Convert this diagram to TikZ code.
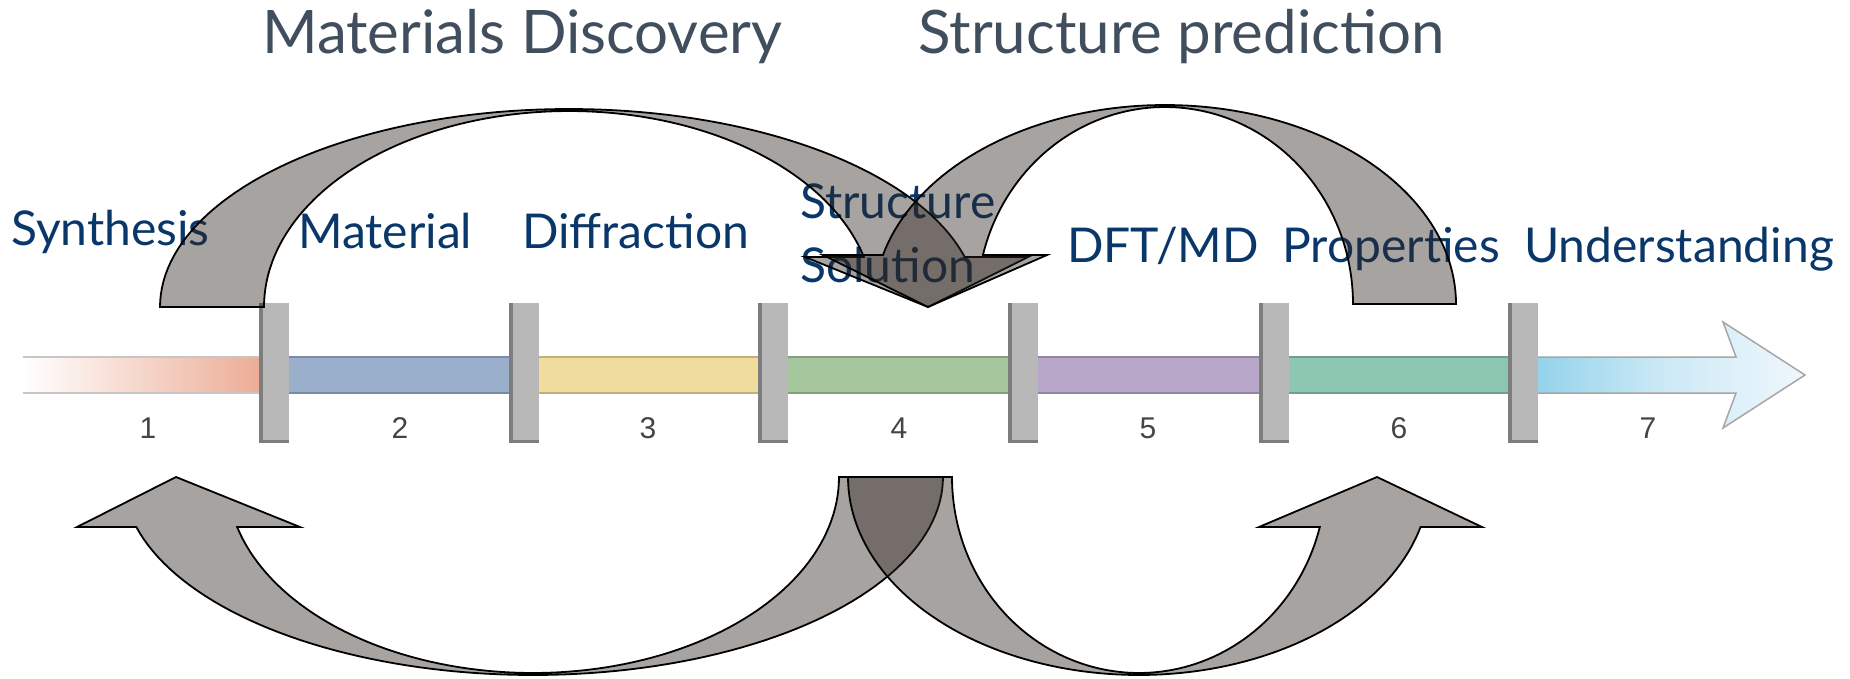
\documentclass[tikz,border=0pt]{standalone}
\usepackage{fontspec}
\newfontfamily\labfont{Lato}
\newfontfamily\numfont{Liberation Sans}
\definecolor{titlecol}{RGB}{65,78,94}
\definecolor{labcol}{RGB}{10,55,105}
\definecolor{arrowfill}{RGB}{45,35,30}
\definecolor{numcol}{RGB}{68,68,68}
\definecolor{segA}{RGB}{235,168,144}
\definecolor{segB}{RGB}{154,175,203}
\definecolor{segC}{RGB}{240,220,156}
\definecolor{segD}{RGB}{166,199,158}
\definecolor{segE}{RGB}{185,167,201}
\definecolor{segF}{RGB}{141,198,177}
\definecolor{segG}{RGB}{142,208,234}
\definecolor{segGend}{RGB}{240,246,252}
\definecolor{sepgray}{RGB}{184,184,184}
\definecolor{sepdark}{RGB}{125,125,125}
\begin{document}
\begin{tikzpicture}[x=1pt,y=-1pt,
  titletext/.style={anchor=base west, inner sep=0pt, text=titlecol, font=\labfont\fontsize{60}{72}\selectfont},
  labeltext/.style={anchor=base west, inner sep=0pt, text=labcol, font=\labfont\fontsize{48}{58}\selectfont},
  numtext/.style={anchor=center, inner sep=0pt, text=numcol, font=\numfont\fontsize{30}{34}\selectfont},
  curvedarrow/.style={draw=black, line width=1.8pt, fill=arrowfill, fill opacity=0.42, line join=miter},
  segbox/.style={line width=1.5pt},
  sepbody/.style={fill=sepgray},
  sepedge/.style={fill=sepdark},
]
\useasboundingbox (0,0) rectangle (1850,678);

% timeline bar
\shade[left color=white, right color=segA] (23,357) rectangle (274,393);
\draw[gray!45, line width=1.5pt] (23,357) -- (274,357) (23,393) -- (274,393);
\path[segbox, fill=segB, draw=segB!80!black] (274,357) rectangle (524,393);
\path[segbox, fill=segC, draw=segC!80!black] (524,357) rectangle (773,393);
\path[segbox, fill=segD, draw=segD!80!black] (773,357) rectangle (1023,393);
\path[segbox, fill=segE, draw=segE!80!black] (1023,357) rectangle (1274,393);
\path[segbox, fill=segF, draw=segF!80!black] (1274,357) rectangle (1523,393);
\shade[left color=segG, right color=segGend, middle color=segG!45!white]
  (1523,357) -- (1736,357) -- (1723,322) -- (1805,375) -- (1723,428) -- (1736,393) -- (1523,393) -- cycle;
\draw[gray!70, line width=1.5pt]
  (1523,357) -- (1736,357) -- (1723,322) -- (1805,375) -- (1723,428) -- (1736,393) -- (1523,393);

% separators
\foreach \sx in {274,524,773,1023,1274,1523}{
  \path[sepbody] (\sx-15,303) rectangle (\sx+15,443);
  \path[sepedge] (\sx-15,303) rectangle (\sx-11,443);
  \path[sepedge] (\sx-15,440) rectangle (\sx+15,443);
}

% numbers
\node[numtext] (n1) at (148,428) {1};
\node[numtext] (n2) at (400,428) {2};
\node[numtext] (n3) at (648,428) {3};
\node[numtext] (n4) at (899,428) {4};
\node[numtext] (n5) at (1148,428) {5};
\node[numtext] (n6) at (1399,428) {6};
\node[numtext] (n7) at (1648,428) {7};

% labels
\node[labeltext] (synth) at (11,245) {Synthesis};
\node[labeltext] (mat) at (298,248) {Material};
\node[labeltext] (diff) at (522,248) {Diffraction};
\node[labeltext] (struct) at (800,218) {Structure};
\node[labeltext] (sol) at (800,282) {Solution};
\node[labeltext] (dft) at (1067,262) {DFT/MD};
\node[labeltext] (prop) at (1282,262) {Properties};
\node[labeltext] (under) at (1524,262) {Understanding};

% titles
\node[titletext] (t1) at (262,53) {Materials Discovery};
\node[titletext] (t2) at (918,53) {Structure prediction};

% top-left curved arrow
\path[curvedarrow]
  plot[domain=180:345.4, samples=90, variable=\t] ({569+409*cos(\t)},{307+198*sin(\t)})
  -- (1028,257) -- (928,307) -- (805,257)
  -- plot[domain=345.22:180, samples=90, variable=\t] ({569+305*cos(\t)},{307+196*sin(\t)})
  -- cycle;
% top-right curved arrow
\path[curvedarrow]
  plot[domain=360:194.26, samples=90, variable=\t] ({1165+291*cos(\t)},{304+199*sin(\t)})
  -- (823,255) -- (928,307) -- (1047,255)
  -- plot[domain=194.4:360, samples=90, variable=\t] ({1165+188*cos(\t)},{304+197*sin(\t)})
  -- cycle;
% bottom-left curved arrow
\path[curvedarrow]
  plot[domain=0:165.4, samples=90, variable=\t] ({533+410*cos(\t)},{477+198*sin(\t)})
  -- (77,527) -- (176,477) -- (300,527)
  -- plot[domain=165.22:0, samples=90, variable=\t] ({533+306*cos(\t)},{477+196*sin(\t)})
  -- cycle;
% bottom-right curved arrow
\path[curvedarrow]
  plot[domain=180:14.6, samples=90, variable=\t] ({1139+291*cos(\t)},{477+198*sin(\t)})
  -- (1482,527) -- (1377,477) -- (1259,527)
  -- plot[domain=14.78:180, samples=90, variable=\t] ({1139+187*cos(\t)},{477+196*sin(\t)})
  -- cycle;
\end{tikzpicture}
\end{document}
